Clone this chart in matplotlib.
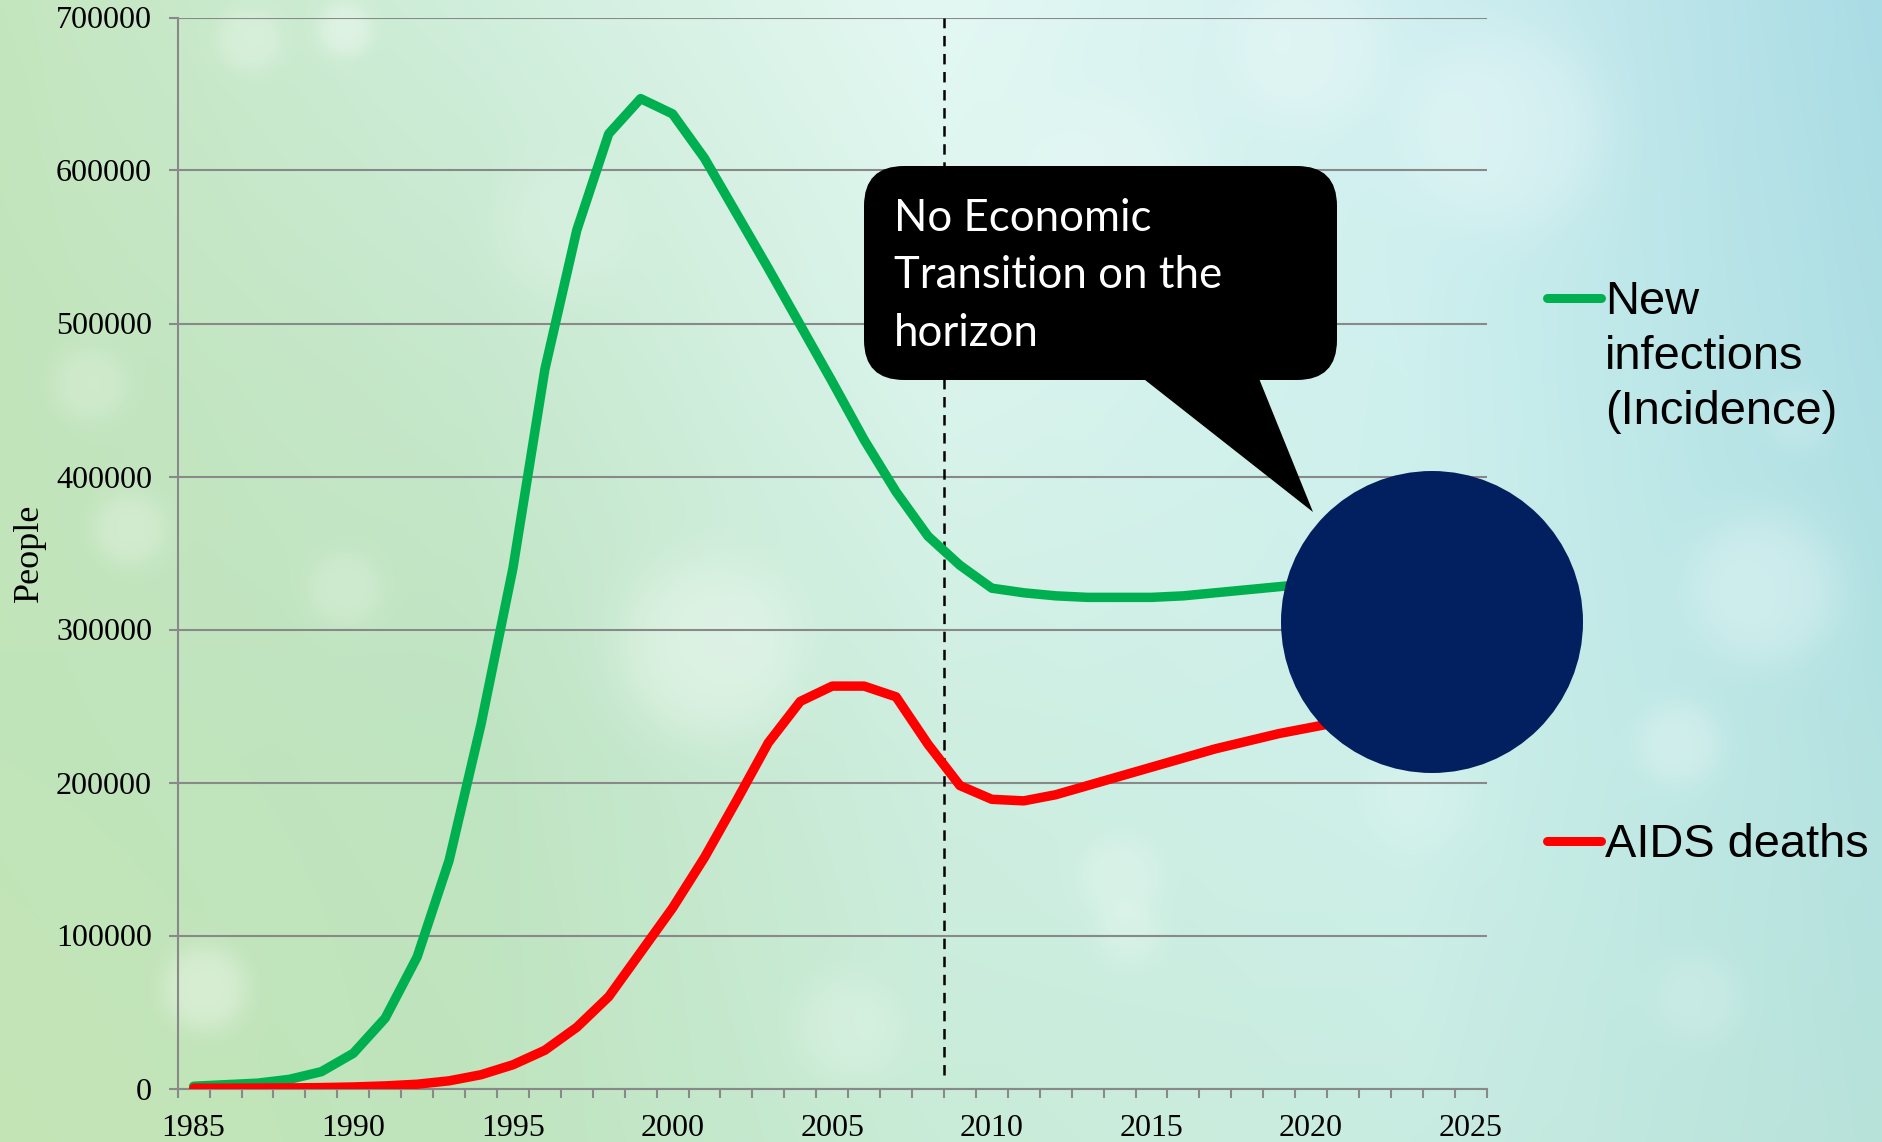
import numpy as np
import matplotlib
matplotlib.use("Agg")
import matplotlib.pyplot as plt
from matplotlib.patches import FancyBboxPatch, Polygon, Circle
from matplotlib.ticker import FuncFormatter

# ---------------- data ----------------
years = list(range(1985, 2026))
new_infections = [1500, 2500, 3500, 6000, 11000, 23000, 46000, 86000, 149000, 238000,
                  340000, 470000, 561000, 624000, 647000, 637000, 608000, 572000, 536000, 499000,
                  462000, 424000, 390000, 361000, 342000, 327000, 324000, 322000, 321000, 321000,
                  321000, 322000, 324000, 326000, 328000, 330000, 332000, 334000, 336000, 338000,
                  340000]
aids_deaths = [200, 200, 300, 400, 600, 1000, 1700, 2800, 5000, 9000,
               15500, 25000, 40000, 60000, 89000, 118000, 151000, 188000, 226000, 253000,
               263000, 263000, 256000, 225000, 198000, 189000, 188000, 192000, 198000, 204000,
               210000, 216000, 222000, 227000, 232000, 236000, 240000, 243000, 246000, 249000,
               252000]
y_ticks = [0, 100000, 200000, 300000, 400000, 500000, 600000, 700000]
x_label_years = [1985, 1990, 1995, 2000, 2005, 2010, 2015, 2020, 2025]
y_axis_label = "People"
legend_infections = ["New", "infections", "(Incidence)"]
legend_deaths = ["AIDS deaths"]
callout_lines = ["No Economic", "Transition on the", "horizon"]
transition_year = 2008.5

GREEN = "#00B050"
RED = "#FF0000"
NAVY = "#022060"
GRID = "#898989"

W, H, DPI = 1883, 1142, 100
plt.rcParams["lines.scale_dashes"] = False
plt.rcParams["font.family"] = ["Liberation Serif", "DejaVu Serif"]

fig = plt.figure(figsize=(W / DPI, H / DPI), dpi=DPI)

# ---------------- background (gradient + soft bokeh) ----------------
bg = fig.add_axes([0, 0, 1, 1], zorder=0)
sc = 4
gx = np.arange(0, W, sc) + sc / 2
gy = np.arange(0, H, sc) + sc / 2
X, Y = np.meshgrid(gx, gy)
xs_c = [0, 470, 940, 1410, 1883]
ys_c = [0, 380, 760, 1142]
ctrl = np.array([
    [(196, 230, 190), (208, 238, 220), (228, 248, 243), (208, 239, 240), (170, 220, 229)],
    [(193, 228, 187), (198, 232, 204), (218, 244, 236), (206, 240, 238), (174, 223, 228)],
    [(193, 228, 185), (191, 228, 193), (206, 238, 224), (206, 240, 234), (180, 226, 225)],
    [(196, 228, 181), (191, 228, 189), (201, 236, 216), (201, 236, 226), (183, 226, 218)],
], dtype=float) / 255.0
rows = np.zeros((len(ys_c), len(gx), 3))
for r in range(len(ys_c)):
    for c in range(3):
        rows[r, :, c] = np.interp(gx, xs_c, ctrl[r, :, c])
img = np.zeros((len(gy), len(gx), 3))
for c in range(3):
    for j in range(len(gx)):
        img[:, j, c] = np.interp(gy, ys_c, rows[:, j, c])
blobs = [(345, 30, 25, 0.35), (1310, 50, 70, 0.25), (1505, 130, 95, 0.3), (1765, 590, 70, 0.3),
         (1680, 745, 40, 0.25), (1120, 880, 40, 0.22), (1130, 935, 30, 0.2), (205, 990, 40, 0.35),
         (130, 530, 35, 0.25), (90, 385, 35, 0.2), (345, 590, 35, 0.2), (710, 650, 85, 0.35),
         (850, 1030, 50, 0.2), (1420, 800, 50, 0.15), (560, 230, 60, 0.15), (1800, 420, 30, 0.15),
         (1110, 200, 90, 0.2), (250, 40, 30, 0.25), (1700, 1000, 40, 0.15)]
for cx, cy, rr, a in blobs:
    d = np.sqrt((X - cx) ** 2 + (Y - cy) ** 2)
    m = a / (1 + np.exp((d - rr) / (0.18 * rr)))
    img = img * (1 - m[..., None]) + m[..., None] * 1.0
bg.imshow(np.clip(img, 0, 1), extent=[0, W, H, 0], aspect="auto", interpolation="bilinear")
bg.set_xlim(0, W)
bg.set_ylim(H, 0)
bg.axis("off")

# ---------------- main chart ----------------
L, R, T, B = 177.7, 1486.7, 17.5, 1088.5
ax = fig.add_axes([L / W, 1 - B / H, (R - L) / W, (B - T) / H], zorder=1)
ax.patch.set_alpha(0)
ax.plot(years, new_infections, color=GREEN, lw=6.8, solid_joinstyle="round",
        solid_capstyle="round", zorder=4)
ax.plot(years, aids_deaths, color=RED, lw=6.8, solid_joinstyle="round",
        solid_capstyle="round", zorder=5)
ax.axvline(transition_year, ymin=(B - 1075) / (B - T), ymax=1, color="black", lw=1.8,
           linestyle=(0, (7.5, 5.5)), zorder=3)

ax.set_xlim(years[0] - 0.5, years[-1] + 0.5)
ax.set_ylim(y_ticks[0], y_ticks[-1])
ax.set_xticks(x_label_years)
ax.set_xticks(np.arange(years[0] - 0.5, years[-1] + 1.0, 1.0), minor=True)
ax.set_yticks(y_ticks)
ax.yaxis.set_major_formatter(FuncFormatter(lambda v, p: f"{int(v)}"))
ax.tick_params(axis="x", which="major", length=0, pad=18, labelsize=23)
ax.tick_params(axis="x", which="minor", length=6.5, width=1.5, color=GRID, direction="out")
ax.tick_params(axis="y", which="major", length=6.5, width=1.5, color=GRID, pad=12, labelsize=23)
ax.tick_params(axis="y", which="minor", length=0)
ax.grid(axis="y", color=GRID, lw=1.5)
ax.set_axisbelow(True)
for s in ["top", "right"]:
    ax.spines[s].set_visible(False)
for s in ["left", "bottom"]:
    ax.spines[s].set_color(GRID)
    ax.spines[s].set_linewidth(1.5)
ax.set_ylabel(y_axis_label, fontsize=26, va="center")
ax.yaxis.set_label_coords((29 - L) / (R - L), 0.5)

# ---------------- overlay: callout, circle, legend ----------------
ov = fig.add_axes([0, 0, 1, 1], zorder=3)
ov.set_xlim(0, W)
ov.set_ylim(H, 0)
ov.axis("off")
ov.patch.set_alpha(0)

ov.add_patch(FancyBboxPatch((864, 166), 473, 214, boxstyle="round,pad=0,rounding_size=40",
                            facecolor="black", edgecolor="none"))
ov.add_patch(Polygon([(1140, 376), (1258, 376), (1313, 512)], closed=True,
                     facecolor="black", edgecolor="none"))
for i, line in enumerate(callout_lines):
    ov.text(894, 231 + i * 57.5, line, color="white", fontsize=31.5, family=["Lato", "DejaVu Sans"],
            ha="left", va="baseline")

ov.add_patch(Circle((1432, 622), 151, facecolor=NAVY, edgecolor="none"))

ov.plot([1547, 1601], [298, 298], color=GREEN, lw=6.5, solid_capstyle="round")
for i, line in enumerate(legend_infections):
    ov.text(1605, 314 + i * 55, line, color="black", fontsize=33.8,
            family=["Liberation Sans", "DejaVu Sans"], ha="left", va="baseline")
ov.plot([1547, 1601], [841, 841], color=RED, lw=6.5, solid_capstyle="round")
for i, line in enumerate(legend_deaths):
    ov.text(1605, 857 + i * 55, line, color="black", fontsize=33.8,
            family=["Liberation Sans", "DejaVu Sans"], ha="left", va="baseline")

fig.savefig("out.png", dpi=DPI)
